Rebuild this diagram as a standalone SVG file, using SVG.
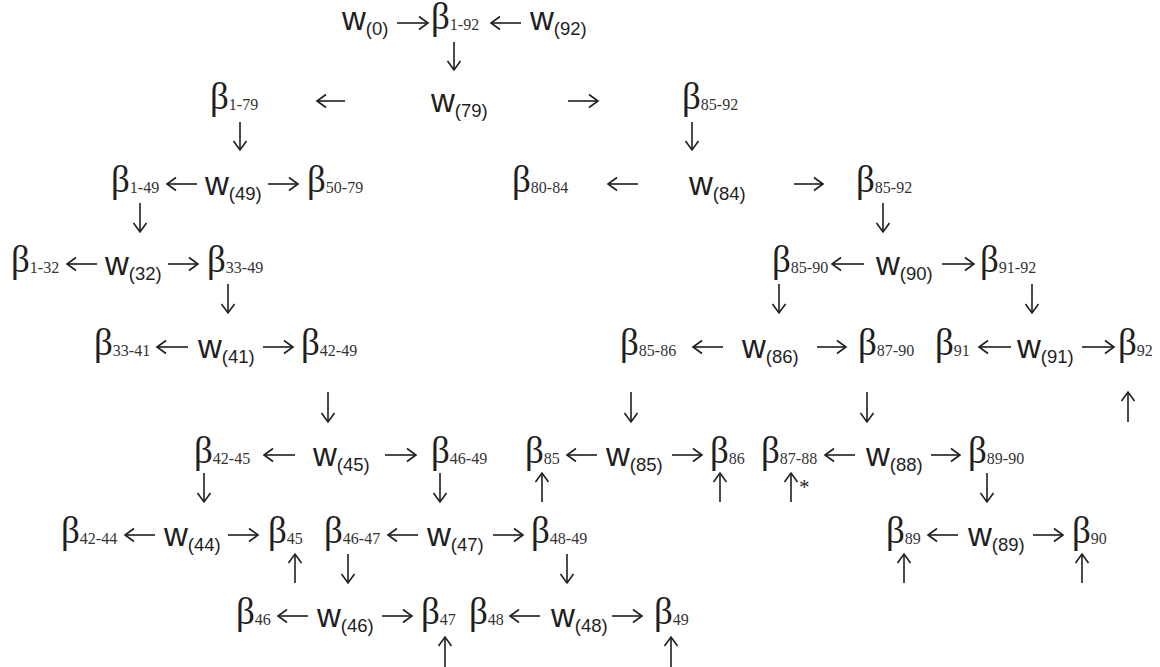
<svg xmlns="http://www.w3.org/2000/svg" width="1160" height="667" viewBox="0 0 1160 667">
<defs>
<style>
.b{font-family:"Liberation Serif","Times New Roman","DejaVu Serif",serif;font-size:37px;fill:#1e1e1e}
.bs{font-family:"Liberation Serif","Times New Roman","DejaVu Serif",serif;font-size:16px;fill:#333}
.w{font-family:"Liberation Sans",Arial,sans-serif;font-size:33px;fill:#1e1e1e}
.ws{font-family:"Liberation Sans",Arial,sans-serif;font-size:18.5px;fill:#1e1e1e}
.star{font-family:"Liberation Serif","Times New Roman",serif;font-size:21px;fill:#1e1e1e}
.c path{fill:none;stroke:#1e1e1e;stroke-width:1.6;marker-end:url(#ah)}
</style>
<marker id="ah" viewBox="-11 -8 13 16" refX="0" refY="0" markerWidth="13" markerHeight="16" markerUnits="userSpaceOnUse" orient="auto">
<path d="M-9,-6.5 L0,0 L-9,6.5" fill="none" stroke="#1e1e1e" stroke-width="1.6" stroke-linejoin="miter"/>
</marker>
</defs>
<rect width="1160" height="667" fill="#fff"/>

<g id="connectors" class="c">
<!-- row 1 -->
<path d="M397,23 H428"/>
<path d="M521,23 H491"/>
<path d="M454,42 V70"/>
<!-- row 2 -->
<path d="M345,101 H317"/>
<path d="M568,101 H598"/>
<path d="M240,122 V150"/>
<path d="M692,122 V150"/>
<!-- row 3 -->
<path d="M197,184 H167"/>
<path d="M268,184 H298"/>
<path d="M638,184 H608"/>
<path d="M794,184 H823"/>
<path d="M140,203 V232"/>
<path d="M883,203 V232"/>
<!-- row 4 -->
<path d="M97,264 H67"/>
<path d="M168,264 H198"/>
<path d="M864,264 H832"/>
<path d="M942,264 H974"/>
<path d="M228,284 V313"/>
<path d="M779,284 V313"/>
<path d="M1032,284 V313"/>
<!-- row 5 -->
<path d="M188,347 H157"/>
<path d="M263,347 H293"/>
<path d="M723,347 H693"/>
<path d="M817,347 H846"/>
<path d="M1011,347 H979"/>
<path d="M1082,347 H1114"/>
<path d="M328,392 V422"/>
<path d="M631,392 V422"/>
<path d="M867,392 V422"/>
<path d="M1128,422 V392"/>
<!-- row 6 -->
<path d="M295,455 H264"/>
<path d="M385,455 H416"/>
<path d="M597,455 H567"/>
<path d="M672,455 H702"/>
<path d="M855,455 H825"/>
<path d="M931,455 H960"/>
<path d="M204,473 V502"/>
<path d="M440,473 V502"/>
<path d="M542,502 V473"/>
<path d="M720,502 V473"/>
<path d="M791,502 V473"/>
<path d="M987,473 V502"/>
<!-- row 7 -->
<path d="M155,535 H125"/>
<path d="M228,535 H258"/>
<path d="M418,535 H388"/>
<path d="M493,535 H523"/>
<path d="M958,535 H928"/>
<path d="M1033,535 H1063"/>
<path d="M295,583 V554"/>
<path d="M348,554 V583"/>
<path d="M567,554 V583"/>
<path d="M904,583 V554"/>
<path d="M1082,583 V554"/>
<!-- row 8 -->
<path d="M308,616 H278"/>
<path d="M382,616 H412"/>
<path d="M540,616 H510"/>
<path d="M612,616 H642"/>
<path d="M445,667 V637"/>
<path d="M671,667 V637"/>
</g>
<text x="799" y="494" class="star">*</text>

<!-- row 1 -->
<g id="w0"><text x="342" y="30" class="w">w<tspan class="ws" dy="5">(0)</tspan></text></g>
<g id="b1-92"><text x="431" y="29" class="b">β<tspan class="bs" dy="1">1-92</tspan></text></g>
<g id="w92"><text x="530" y="30" class="w">w<tspan class="ws" dy="5">(92)</tspan></text></g>
<!-- row 2 -->
<g id="b1-79"><text x="210" y="109" class="b">β<tspan class="bs" dy="1">1-79</tspan></text></g>
<g id="w79"><text x="431" y="112" class="w">w<tspan class="ws" dy="5">(79)</tspan></text></g>
<g id="b85-92a"><text x="682" y="109" class="b">β<tspan class="bs" dy="1">85-92</tspan></text></g>
<!-- row 3 -->
<g id="b1-49"><text x="111" y="192" class="b">β<tspan class="bs" dy="1">1-49</tspan></text></g>
<g id="w49"><text x="205" y="195" class="w">w<tspan class="ws" dy="5">(49)</tspan></text></g>
<g id="b50-79"><text x="307" y="192" class="b">β<tspan class="bs" dy="1">50-79</tspan></text></g>
<g id="b80-84"><text x="512" y="192" class="b">β<tspan class="bs" dy="1">80-84</tspan></text></g>
<g id="w84"><text x="689" y="195" class="w">w<tspan class="ws" dy="5">(84)</tspan></text></g>
<g id="b85-92b"><text x="856" y="192" class="b">β<tspan class="bs" dy="1">85-92</tspan></text></g>
<!-- row 4 -->
<g id="b1-32"><text x="11" y="272" class="b">β<tspan class="bs" dy="1">1-32</tspan></text></g>
<g id="w32"><text x="105" y="275" class="w">w<tspan class="ws" dy="5">(32)</tspan></text></g>
<g id="b33-49"><text x="207" y="272" class="b">β<tspan class="bs" dy="1">33-49</tspan></text></g>
<g id="b85-90"><text x="772" y="272" class="b">β<tspan class="bs" dy="1">85-90</tspan></text></g>
<g id="w90"><text x="876" y="275" class="w">w<tspan class="ws" dy="5">(90)</tspan></text></g>
<g id="b91-92"><text x="980" y="272" class="b">β<tspan class="bs" dy="1">91-92</tspan></text></g>
<!-- row 5 -->
<g id="b33-41"><text x="94" y="355" class="b">β<tspan class="bs" dy="1">33-41</tspan></text></g>
<g id="w41"><text x="198" y="358" class="w">w<tspan class="ws" dy="5">(41)</tspan></text></g>
<g id="b42-49"><text x="301" y="355" class="b">β<tspan class="bs" dy="1">42-49</tspan></text></g>
<g id="b85-86"><text x="620" y="355" class="b">β<tspan class="bs" dy="1">85-86</tspan></text></g>
<g id="w86"><text x="742" y="358" class="w">w<tspan class="ws" dy="5">(86)</tspan></text></g>
<g id="b87-90"><text x="858" y="355" class="b">β<tspan class="bs" dy="1">87-90</tspan></text></g>
<g id="b91"><text x="935" y="355" class="b">β<tspan class="bs" dy="1">91</tspan></text></g>
<g id="w91"><text x="1017" y="358" class="w">w<tspan class="ws" dy="5">(91)</tspan></text></g>
<g id="b92"><text x="1118" y="355" class="b">β<tspan class="bs" dy="1">92</tspan></text></g>
<!-- row 6 -->
<g id="b42-45"><text x="194" y="463" class="b">β<tspan class="bs" dy="1">42-45</tspan></text></g>
<g id="w45"><text x="313" y="466" class="w">w<tspan class="ws" dy="5">(45)</tspan></text></g>
<g id="b46-49"><text x="431" y="463" class="b">β<tspan class="bs" dy="1">46-49</tspan></text></g>
<g id="b85"><text x="525" y="463" class="b">β<tspan class="bs" dy="1">85</tspan></text></g>
<g id="w85"><text x="606" y="466" class="w">w<tspan class="ws" dy="5">(85)</tspan></text></g>
<g id="b86"><text x="710" y="463" class="b">β<tspan class="bs" dy="1">86</tspan></text></g>
<g id="b87-88"><text x="761" y="463" class="b">β<tspan class="bs" dy="1">87-88</tspan></text></g>
<g id="w88"><text x="866" y="466" class="w">w<tspan class="ws" dy="5">(88)</tspan></text></g>
<g id="b89-90"><text x="968" y="463" class="b">β<tspan class="bs" dy="1">89-90</tspan></text></g>
<!-- row 7 -->
<g id="b42-44"><text x="61" y="543" class="b">β<tspan class="bs" dy="1">42-44</tspan></text></g>
<g id="w44"><text x="164" y="546" class="w">w<tspan class="ws" dy="5">(44)</tspan></text></g>
<g id="b45"><text x="268" y="543" class="b">β<tspan class="bs" dy="1">45</tspan></text></g>
<g id="b46-47"><text x="324" y="543" class="b">β<tspan class="bs" dy="1">46-47</tspan></text></g>
<g id="w47"><text x="427" y="546" class="w">w<tspan class="ws" dy="5">(47)</tspan></text></g>
<g id="b48-49"><text x="531" y="543" class="b">β<tspan class="bs" dy="1">48-49</tspan></text></g>
<g id="b89"><text x="886" y="543" class="b">β<tspan class="bs" dy="1">89</tspan></text></g>
<g id="w89"><text x="968" y="546" class="w">w<tspan class="ws" dy="5">(89)</tspan></text></g>
<g id="b90"><text x="1072" y="543" class="b">β<tspan class="bs" dy="1">90</tspan></text></g>
<!-- row 8 -->
<g id="b46"><text x="236" y="624" class="b">β<tspan class="bs" dy="1">46</tspan></text></g>
<g id="w46"><text x="317" y="627" class="w">w<tspan class="ws" dy="5">(46)</tspan></text></g>
<g id="b47"><text x="421" y="624" class="b">β<tspan class="bs" dy="1">47</tspan></text></g>
<g id="b48"><text x="469" y="624" class="b">β<tspan class="bs" dy="1">48</tspan></text></g>
<g id="w48"><text x="551" y="627" class="w">w<tspan class="ws" dy="5">(48)</tspan></text></g>
<g id="b49"><text x="654" y="624" class="b">β<tspan class="bs" dy="1">49</tspan></text></g>
</svg>
